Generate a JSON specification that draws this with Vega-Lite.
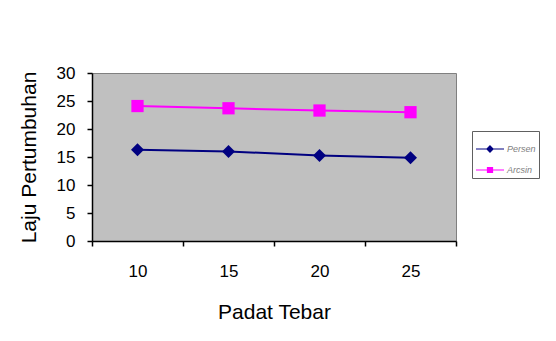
{
  "$schema": "https://vega.github.io/schema/vega-lite/v6.json",
  "width": 364,
  "height": 168,
  "autosize": "none",
  "padding": {"left": 92, "top": 73, "right": 100, "bottom": 100},
  "background": "white",
  "config": {
    "font": "Liberation Sans",
    "view": {"fill": "#C0C0C0", "stroke": "#808080", "strokeWidth": 1},
    "axis": {"grid": false, "domainColor": "black", "tickColor": "black", "labelColor": "black", "titleColor": "black", "tickSize": 5, "domainWidth": 1.5, "tickWidth": 1.5}
  },
  "data": {
    "values": [
      {"padat": "10", "series": "Persen", "laju": 16.3},
      {"padat": "15", "series": "Persen", "laju": 16.0},
      {"padat": "20", "series": "Persen", "laju": 15.25},
      {"padat": "25", "series": "Persen", "laju": 14.85},
      {"padat": "10", "series": "Arcsin", "laju": 24.1},
      {"padat": "15", "series": "Arcsin", "laju": 23.7},
      {"padat": "20", "series": "Arcsin", "laju": 23.3},
      {"padat": "25", "series": "Arcsin", "laju": 23.0}
    ]
  },
  "encoding": {
    "x": {
      "field": "padat", "type": "ordinal", "sort": ["10", "15", "20", "25"],
      "scale": {"type": "band", "paddingInner": 0, "paddingOuter": 0},
      "axis": {"title": "Padat Tebar", "labelAngle": 0, "ticks": true, "tickBand": "extent", "labelPadding": 17, "labelFontSize": 17, "titleFontSize": 21, "titleFontWeight": "normal", "titlePadding": 22}
    },
    "y": {
      "field": "laju", "type": "quantitative",
      "scale": {"domain": [0, 30], "nice": false},
      "axis": {"title": "Laju Pertumbuhan", "values": [0, 5, 10, 15, 20, 25, 30], "labelPadding": 12, "labelFontSize": 17, "titleFontSize": 21, "titleFontWeight": "normal", "titlePadding": 17}
    },
    "color": {
      "field": "series", "type": "nominal",
      "scale": {"domain": ["Persen", "Arcsin"], "range": ["#000080", "#FF00FF"]},
      "legend": {
        "title": null,
        "orient": "none",
        "legendX": 380,
        "legendY": 58,
        "padding": 3,
        "strokeColor": "#606060",
        "fillColor": "white",
        "labelFontSize": 9,
        "labelFontStyle": "italic",
        "labelColor": "#808080",
        "symbolSize": 784,
        "rowPadding": -9,
        "labelOffset": 2,
        "encode": {
          "symbols": {
            "update": {
              "shape": {"signal": "datum.value === 'Persen' ? 'M-1,0L1,0M0,-0.22L0.22,0L0,0.22L-0.22,0Z' : 'M-1,0L1,0M-0.18,-0.18L0.18,-0.18L0.18,0.18L-0.18,0.18Z'"},
              "fill": {"scale": "color", "field": "value"},
              "stroke": {"scale": "color", "field": "value"},
              "strokeWidth": {"value": 1.2},
              "opacity": {"value": 1}
            }
          }
        }
      }
    }
  },
  "layer": [
    {"mark": {"type": "line", "strokeWidth": 2}},
    {
      "transform": [{"filter": "datum.series === 'Persen'"}],
      "mark": {"type": "point", "filled": true, "opacity": 1, "size": 170, "shape": "diamond"}
    },
    {
      "transform": [{"filter": "datum.series === 'Arcsin'"}],
      "mark": {"type": "point", "filled": true, "opacity": 1, "size": 150, "shape": "square"}
    }
  ]
}
